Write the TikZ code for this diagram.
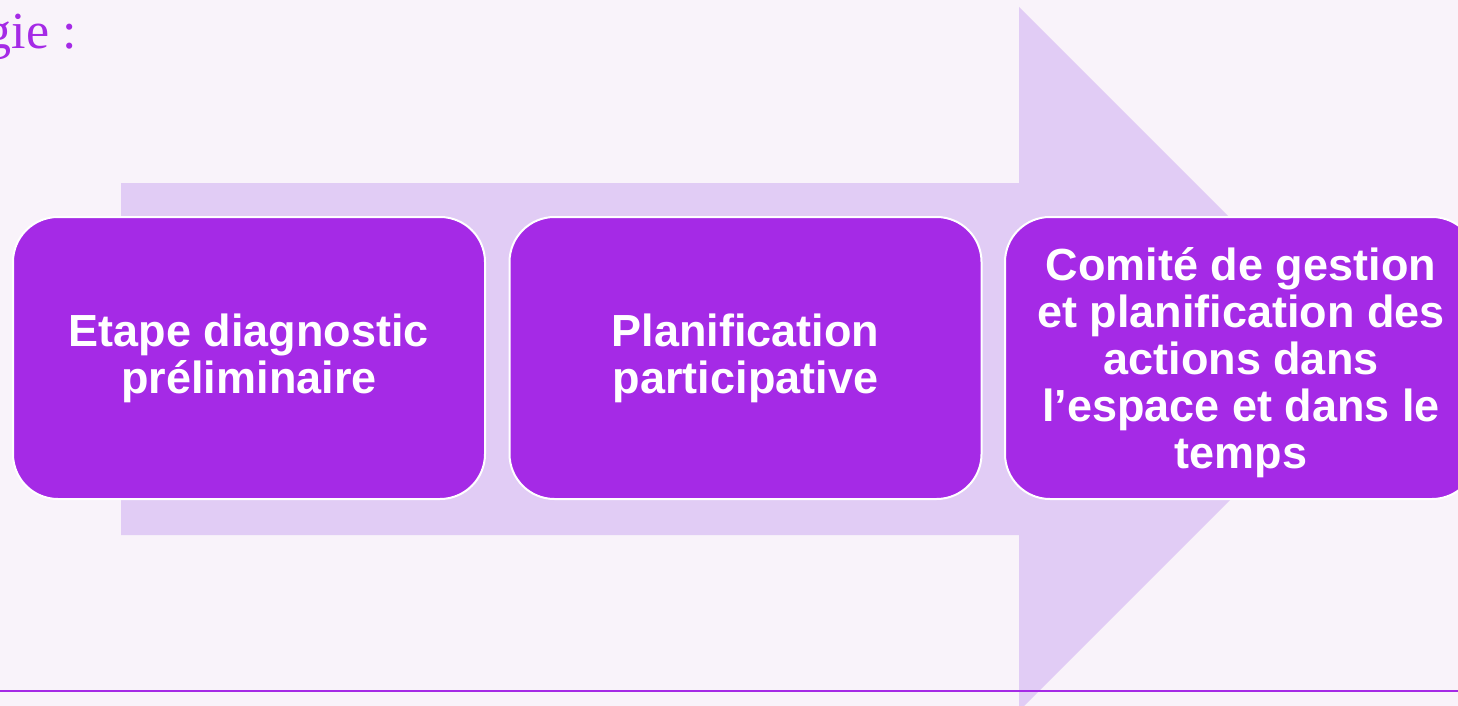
\documentclass[tikz,border=0pt]{standalone}
\usepackage{fontspec}
\newfontfamily\boxfont{Liberation Sans}
\newfontfamily\titlefont{Liberation Serif}
\definecolor{pagebg}{HTML}{F9F3FA}
\definecolor{arrowlilac}{HTML}{E1CCF5}
\definecolor{boxpurple}{HTML}{A52AE6}
\begin{document}
\begin{tikzpicture}[x=1pt,y=-1pt]
        \tikzstyle{stepbox}=[rectangle, rounded corners=45pt, draw=white, line width=2pt, fill=boxpurple, minimum width=472pt, minimum height=282pt, inner sep=4pt, align=center, text=white, font=\boxfont\bfseries\fontsize{45}{47}\selectfont]
        \tikzstyle{heading}=[inner sep=0pt, anchor=base east, text=boxpurple, font=\titlefont\fontsize{52}{56}\selectfont]
        \useasboundingbox[fill=pagebg] (0,0) rectangle (1458,706);
        \clip (0,0) rectangle (1458,706);
        % big arrow behind the steps
        \fill[arrowlilac] (121,183) -- (1019,183) -- (1019,7) -- (1371,359) -- (1019,711) -- (1019,535) -- (121,535) -- cycle;
        \node[heading] (title) at (77,49) {gie :};
        \node[stepbox] (diag) at (249,358) {Etape diagnostic\\préliminaire};
        \node[stepbox] (plan) at (745.5,358) {Planification\\participative};
        \node[stepbox, text depth=0pt] (comite) at (1241,358) {Comité de gestion\\et planification des\\actions dans\\l’espace et dans le\\temps};
        \coordinate (ruleL) at (0,691);
        \coordinate (ruleR) at (1458,691);
        \draw[boxpurple, line width=2.5pt] (ruleL) -- (ruleR);
    \end{tikzpicture}
\end{document}
